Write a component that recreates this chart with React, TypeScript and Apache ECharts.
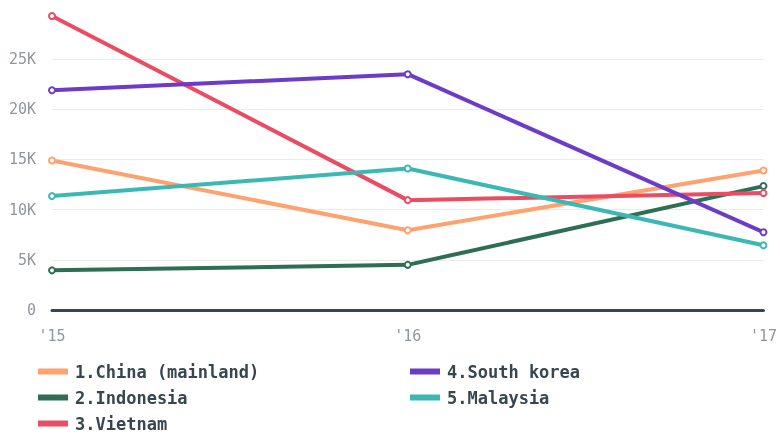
import React, { useEffect, useRef } from "react";
import * as echarts from "echarts";

const years = ["'15", "'16", "'17"];
const china = [14900, 7950, 13900];
const indonesia = [3950, 4500, 12350];
const vietnam = [29300, 10950, 11650];
const southKorea = [21900, 23500, 7750];
const malaysia = [11350, 14100, 6450];
const yTicks = [0, 5000, 10000, 15000, 20000, 25000];

const names = ["1.China (mainland)", "2.Indonesia", "3.Vietnam", "4.South korea", "5.Malaysia"];
const colors = ["#ffa26f", "#2e6e55", "#ea4c63", "#6c3bc7", "#3cb8b4"];
const values = [china, indonesia, vietnam, southKorea, malaysia];

const mono = "'DejaVu Sans Mono', 'Liberation Mono', monospace";

export default function App() {
  const ref = useRef<HTMLDivElement>(null);
  useEffect(() => {
    if (!ref.current) return;
    const chart = echarts.init(ref.current, undefined, { renderer: "svg" });
    const legendBase = {
      orient: "vertical",
      icon: "rect",
      itemWidth: 28,
      itemHeight: 4,
      itemGap: 9,
      padding: 0,
      textStyle: {
        fontFamily: mono,
        fontWeight: "bold",
        fontSize: 17,
        color: "#37474f",
        lineHeight: 16,
        padding: [0, 0, 0, 3],
      },
    };
    chart.setOption({
      animation: false,
      grid: { left: 52, right: 15, top: 16, bottom: 125 },
      legend: [
        { ...legendBase, left: 38, top: 363, data: names.slice(0, 3) },
        { ...legendBase, left: 410, top: 363, data: names.slice(3) },
      ],
      xAxis: {
        type: "category",
        data: years,
        boundaryGap: false,
        axisLine: { show: true, lineStyle: { color: "#37474f", width: 3 } },
        axisTick: { show: false },
        axisLabel: { color: "#90979c", fontFamily: mono, fontSize: 15, margin: 18 },
        splitLine: { show: false },
      },
      yAxis: {
        type: "value",
        min: 0,
        max: "dataMax",
        interval: 5000,
        axisLine: { show: false },
        axisTick: { show: false },
        axisLabel: {
          color: "#90979c",
          fontFamily: mono,
          fontSize: 15,
          margin: 16,
          showMaxLabel: false,
          formatter: (v: number) => (yTicks.includes(v) ? (v === 0 ? "0" : v / 1000 + "K") : ""),
        },
        splitLine: { showMaxLine: false, lineStyle: { color: "#ebebeb", width: 1 } },
      },
      series: names.map((n, i) => ({
        name: n,
        type: "line",
        data: values[i],
        symbol: "emptyCircle",
        symbolSize: 6,
        showSymbol: true,
        color: colors[i],
        lineStyle: { width: 4, color: colors[i] },
        itemStyle: { color: colors[i], borderColor: colors[i], borderWidth: 4 },
      })),
    });
    return () => chart.dispose();
  }, []);
  return <div ref={ref} style={{ position: "fixed", left: 0, top: 0, width: 780, height: 435 }} />;
}
